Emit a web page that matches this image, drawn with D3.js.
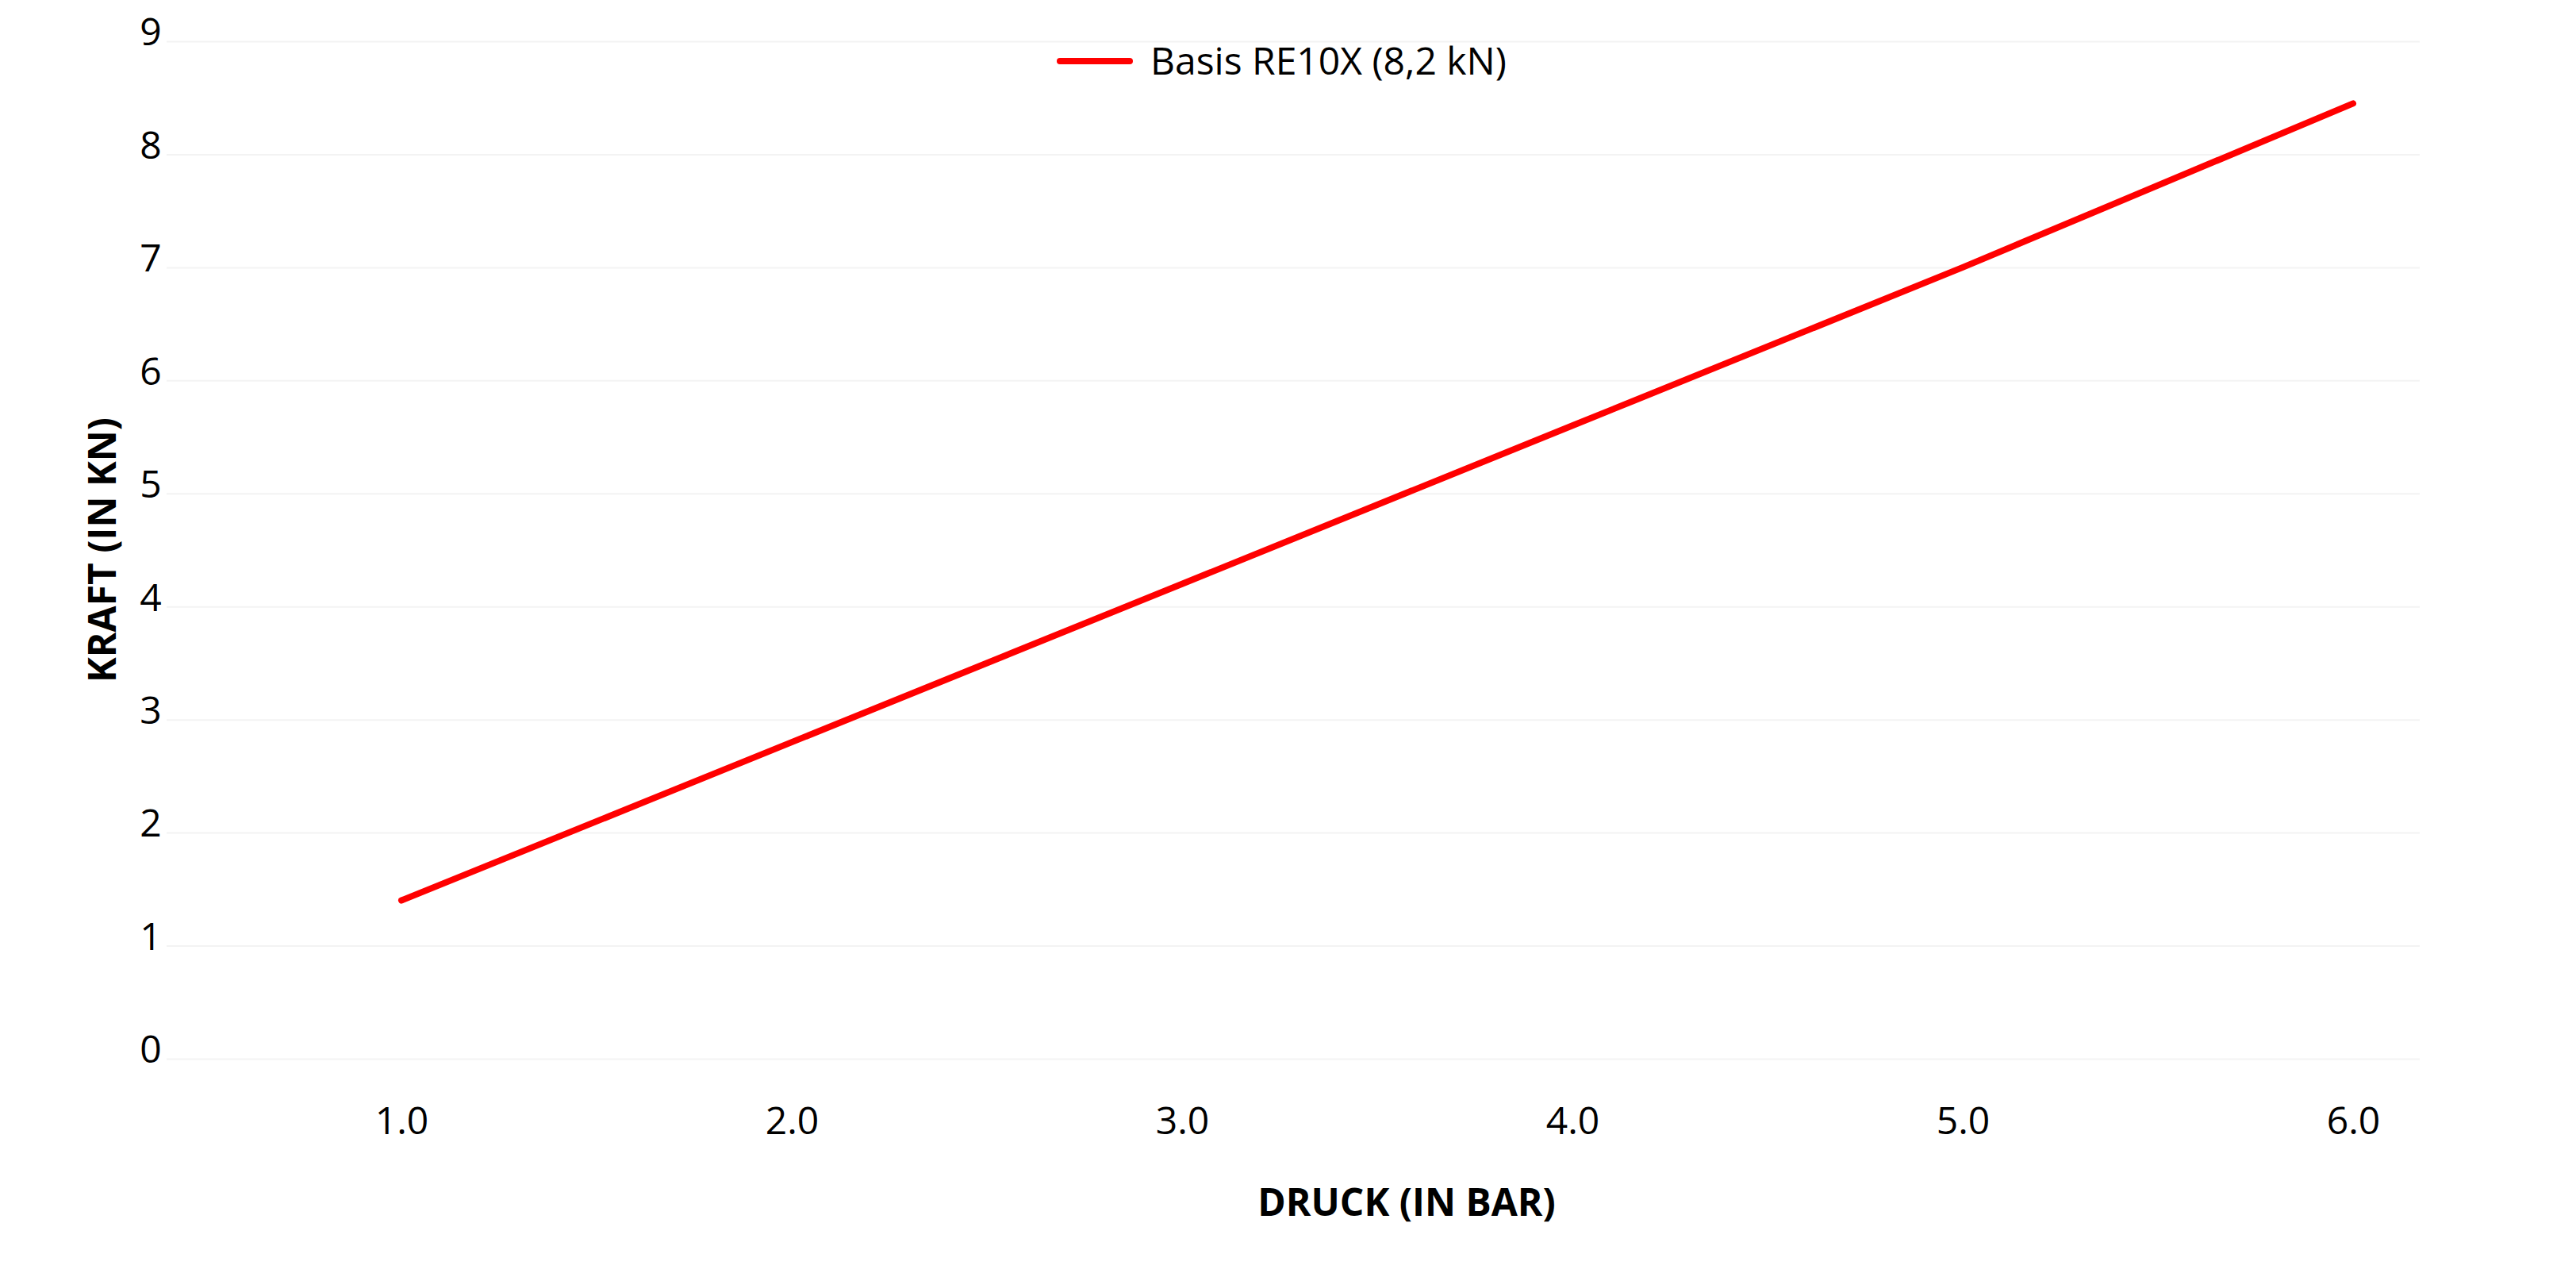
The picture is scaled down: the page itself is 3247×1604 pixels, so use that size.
<!DOCTYPE html>
<html>
<head>
    <style>
        * { margin: 0; padding: 0; }
        body { background: #fff; }
        text { font-family: "Open Sans", "Noto Sans", sans-serif; }
    </style>
    <script src="https://cdn.jsdelivr.net/npm/d3@7"></script>
</head>
<body>
    <div id="root"></div>
    <script>
        var druck = [1, 2, 3, 4, 5, 6];
        var kraft = [1.4, 2.8, 4.2, 5.6, 7.0, 8.45];
        var yTicks = [0, 1, 2, 3, 4, 5, 6, 7, 8, 9];
        var seriesName = "Basis RE10X (8,2 kN)";

        var width = 3247, height = 1604;
        var svg = d3.select("#root").append("svg").attr("width", width).attr("height", height);

        var x = d3.scaleLinear().domain([1, 6]).range([506, 2966]);
        var y = d3.scaleLinear().domain([0, 9]).range([1334, 52]);

        // horizontal grid, very faint
        svg.append("g").attr("transform", "translate(210,0)")
            .call(d3.axisLeft(y).tickValues(yTicks).tickSize(-(3050 - 210)).tickFormat(""))
            .call(function (g) { g.select(".domain").remove(); })
            .selectAll("line").attr("stroke", "#f3f3f3").attr("stroke-width", 2);

        var yAxis = svg.append("g").attr("transform", "translate(212,0)")
            .call(d3.axisLeft(y).tickValues(yTicks).tickSize(0).tickPadding(0));
        yAxis.select(".domain").remove();
        yAxis.selectAll("text").attr("font-size", 48).attr("fill", "#000")
            .attr("text-anchor", "middle").attr("dx", -22).attr("dy", "0.1em");

        var xAxis = svg.append("g").attr("transform", "translate(0,1395)")
            .call(d3.axisBottom(x).tickValues(druck).tickSize(0).tickPadding(0));
        xAxis.select(".domain").remove();
        xAxis.selectAll("text").attr("font-size", 48).attr("fill", "#000").attr("dy", "0.7em");

        var line = d3.line().x(function (d, i) { return x(druck[i]); }).y(function (d) { return y(d); });
        svg.append("path").datum(kraft).attr("d", line)
            .attr("fill", "none").attr("stroke", "#ff0000").attr("stroke-width", 8)
            .attr("stroke-linecap", "round");

        // axis titles
        svg.append("text").attr("x", 1773).attr("y", 1532).attr("text-anchor", "middle")
            .attr("font-size", 48).attr("font-weight", "bold").text("DRUCK (IN BAR)");
        svg.append("text").attr("transform", "translate(146,693) rotate(-90)").attr("text-anchor", "middle")
            .attr("font-size", 48).attr("font-weight", "bold").text("KRAFT (IN KN)");

        // legend
        var lg = svg.append("g").attr("transform", "translate(1336,77)");
        lg.append("line").attr("x1", 0).attr("x2", 88).attr("stroke", "#ff0000")
            .attr("stroke-width", 8).attr("stroke-linecap", "round");
        lg.append("text").attr("x", 114).attr("dy", "0.35em").attr("font-size", 48).text(seriesName);
    </script>
</body>
</html>
